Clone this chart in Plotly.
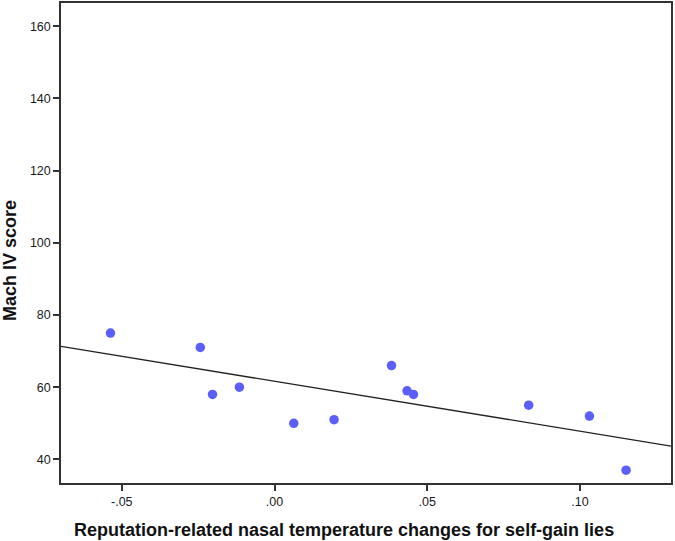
import numpy as np
import plotly.graph_objects as go

temp_change = [-0.0537, -0.0243, -0.0203, -0.0115, 0.0063, 0.0195, 0.0383, 0.0434, 0.0455, 0.0832, 0.1031, 0.1151]
mach_score = [75, 71, 58, 60, 50, 51, 66, 59, 58, 55, 52, 37]

x_range = [-0.0699, 0.1298]
y_range = [33.45, 166.45]
x_ticks = [-0.05, 0.0, 0.05, 0.10]
x_tick_labels = ["-.05", ".00", ".05", ".10"]
y_ticks = [40, 60, 80, 100, 120, 140, 160]

x_title = "Reputation-related nasal temperature changes for self-gain lies"
y_title = "Mach IV score"

slope, intercept = np.polyfit(temp_change, mach_score, 1)
fit_x = np.array(x_range)
fit_y = slope * fit_x + intercept

W, H = 675, 541
ML, MR, MT, MB = 61, 4, 3, 58
PW, PH = W - ML - MR, H - MT - MB

fig = go.Figure()
fig.add_trace(go.Scatter(x=fit_x, y=fit_y, mode="lines",
                         line=dict(color="#222222", width=1.3), showlegend=False, hoverinfo="skip"))
fig.add_trace(go.Scatter(x=temp_change, y=mach_score, mode="markers",
                         marker=dict(color="#5b5ff8", size=9.5), showlegend=False))

axis_common = dict(showline=True, linecolor="#333333", linewidth=1.5, mirror=True,
                   ticks="outside", ticklen=6, tickwidth=1.5, tickcolor="#333333",
                   showgrid=False, zeroline=False, automargin=False,
                   tickfont=dict(family="Liberation Sans, Arial", size=12.5, color="#1a1a1a"))

fig.update_xaxes(range=x_range, tickvals=x_ticks, ticktext=x_tick_labels, **axis_common)
fig.update_yaxes(range=y_range, tickvals=y_ticks, **axis_common)

title_font = dict(family="Liberation Sans, Arial", size=18, color="#111111")
fig.add_annotation(text="<b>" + x_title + "</b>", xref="paper", yref="paper",
                   x=(344 - ML) / PW, y=-(529.5 - (MT + PH)) / PH,
                   xanchor="center", yanchor="middle", showarrow=False, font=title_font)
fig.add_annotation(text="<b>" + y_title + "</b>", xref="paper", yref="paper",
                   x=-(ML - 10) / PW, y=1 - (261 - MT) / PH, textangle=-90,
                   xanchor="center", yanchor="middle", showarrow=False, font=title_font)

fig.update_layout(width=W, height=H, margin=dict(l=ML, r=MR, t=MT, b=MB),
                  plot_bgcolor="white", paper_bgcolor="white")

fig.write_html("out.html", config={"displayModeBar": False},
               post_script="document.body.style.margin='0px';document.body.style.overflow='hidden';")
